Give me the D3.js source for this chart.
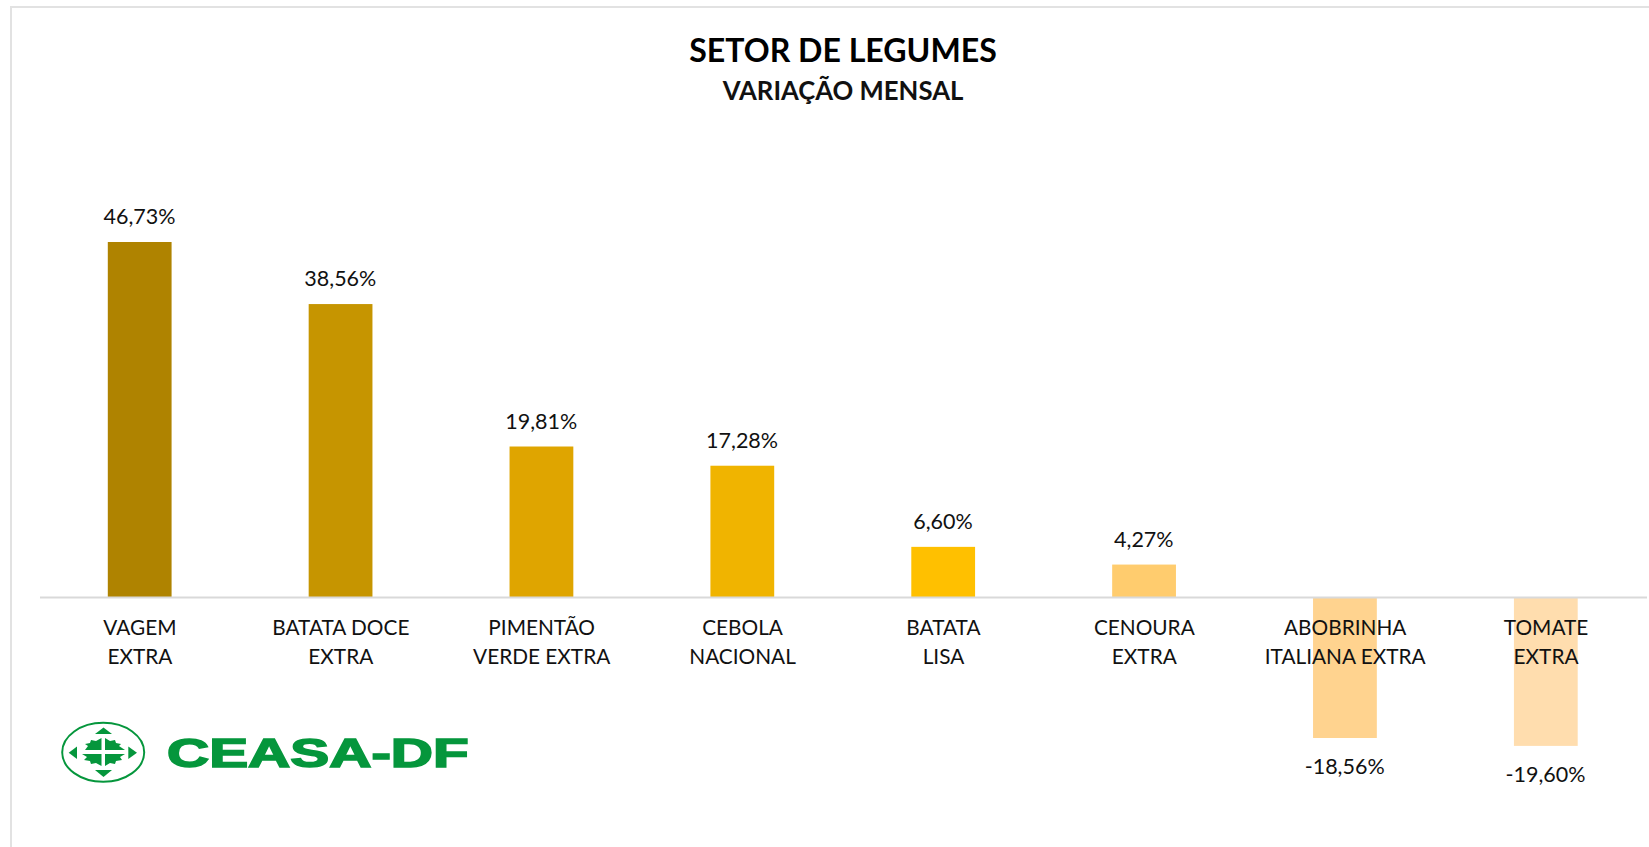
<!DOCTYPE html>
<html><head><meta charset="utf-8">
<script src="https://cdn.jsdelivr.net/npm/d3@7/dist/d3.min.js"></script>
<style>html,body{margin:0;padding:0;background:#fff}svg{display:block}</style>
</head><body><div id="c"></div>
<script>
const categories = [["VAGEM","EXTRA"],["BATATA DOCE","EXTRA"],["PIMENTÃO","VERDE EXTRA"],["CEBOLA","NACIONAL"],["BATATA","LISA"],["CENOURA","EXTRA"],["ABOBRINHA","ITALIANA EXTRA"],["TOMATE","EXTRA"]];
const values = [46.73,38.56,19.81,17.28,6.60,4.27,-18.56,-19.60];
const colors = ["#AF8300","#C69500","#DFA500","#F0B400","#FFC000","#FFCC6E","#FFD38F","#FFDDAE"];
const title = "SETOR DE LEGUMES";
const subtitle = "VARIAÇÃO MENSAL";
const W=1649,H=847, font="Lato, 'Open Sans', sans-serif", ink="#111";
const svg=d3.select("#c").append("svg").attr("width",W).attr("height",H);
svg.append("path").attr("d",`M11,${H}V7H${W}`).attr("fill","none").attr("stroke","#e2e2e2").attr("stroke-width",2);
const x=d3.scaleBand().domain(d3.range(8)).range([39.5,1646.5]).paddingInner(.68).paddingOuter(.34);
const y=d3.scaleLinear().domain([0,46.73]).range([597,242]);
svg.selectAll("rect.b").data(values).join("rect").attr("class","b")
 .attr("x",(d,i)=>x(i)).attr("width",x.bandwidth()-.5)
 .attr("y",d=>Math.min(y(d),y(0))).attr("height",d=>Math.abs(y(d)-y(0)))
 .attr("fill",(d,i)=>colors[i]);
const axis=d3.axisBottom(x).tickSize(0).tickFormat("");
const ag=svg.append("g").attr("transform",`translate(0,${y(0)})`).call(axis);
ag.select(".domain").attr("stroke","#d9d9d9").attr("stroke-width",2);
const tx=svg.append("g").attr("font-family",font).attr("font-size",20.8).attr("fill",ink).attr("text-anchor","middle");
categories.forEach((c,i)=>c.forEach((l,j)=>tx.append("text").attr("x",x(i)+x.bandwidth()/2).attr("y",y(0)+38+j*28.5).text(l)));
svg.append("g").attr("font-family",font).attr("font-size",21.5).attr("fill",ink).attr("text-anchor","middle")
 .selectAll("text").data(values).join("text")
 .attr("x",(d,i)=>x(i)+x.bandwidth()/2-.5)
 .attr("y",d=>d>=0?y(d)-18:y(d)+36)
 .text(d=>d3.format(".2f")(d).replace(".",",").replace("−","-")+"%");
svg.append("text").attr("x",843).attr("y",62).attr("text-anchor","middle").attr("font-family",font).attr("font-weight",700).attr("font-size",32.1).attr("fill","#000").text(title);
svg.append("text").attr("x",843).attr("y",100).attr("text-anchor","middle").attr("font-family",font).attr("font-weight",700).attr("font-size",25.7).attr("fill","#111").text(subtitle);
// logo
const g="#05963C", lg=svg.append("g").attr("fill",g);
lg.append("ellipse").attr("cx",103.2).attr("cy",752.3).attr("rx",41).attr("ry",29.5).attr("fill","none").attr("stroke",g).attr("stroke-width",2);
["M95,734H112L103.5,727.5Z","M95,770H112L103.5,777Z","M77,746.5V759L68.7,752.7Z","M128.3,746.5V759L137,752.7Z"].forEach(d=>lg.append("path").attr("d",d));
lg.append("path").attr("d","M101.5,738V750H85L88,746L85,744L90,743L91,740L96,741ZM105,738L110,741L115,740L116,743L121,744L119,746L125,750H105ZM101.5,754V766L96,763L91,764L90,761L84,760L87,757L82,754ZM105,754H125L120,757L122,760L116,761L115,764L110,763L105,766Z");
svg.append("text").attr("transform","translate(167,767) scale(1.46,1)").attr("font-family","'Liberation Sans',Arial,sans-serif").attr("font-weight",700).attr("font-size",40).attr("stroke",g).attr("stroke-width",1.6).attr("fill",g).text("CEASA-DF");
</script></body></html>
